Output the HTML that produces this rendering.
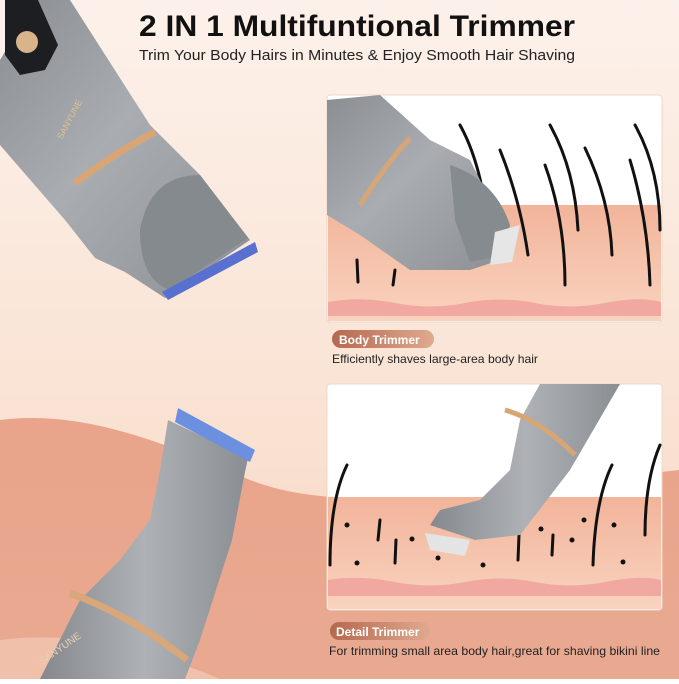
<!DOCTYPE html>
<html><head><style>
body{margin:0;width:679px;height:679px;overflow:hidden;font-family:"Liberation Sans",sans-serif}
</style></head><body>
<svg width="679" height="679" viewBox="0 0 679 679" xmlns="http://www.w3.org/2000/svg">
<defs>
<linearGradient id="bg" x1="0" y1="0" x2="0" y2="1">
<stop offset="0" stop-color="#fcf1ea"/><stop offset="0.6" stop-color="#fae3d4"/><stop offset="1" stop-color="#f6d3bf"/></linearGradient>
<linearGradient id="sal" x1="0" y1="0" x2="0" y2="1">
<stop offset="0" stop-color="#e9a48b"/><stop offset="1" stop-color="#e9a991"/></linearGradient>
<linearGradient id="metal" x1="0" y1="0" x2="1" y2="1">
<stop offset="0" stop-color="#8a8d91"/><stop offset="0.45" stop-color="#a9adb1"/><stop offset="1" stop-color="#8c9095"/></linearGradient>
<linearGradient id="metal2" x1="0" y1="0" x2="1" y2="0">
<stop offset="0" stop-color="#85898d"/><stop offset="0.5" stop-color="#aeb2b6"/><stop offset="1" stop-color="#8a8e92"/></linearGradient>
<linearGradient id="skin" x1="0" y1="0" x2="0" y2="1">
<stop offset="0" stop-color="#f2b49a"/><stop offset="1" stop-color="#f9d3bf"/></linearGradient>
<linearGradient id="pill" x1="0" y1="0" x2="1" y2="0">
<stop offset="0" stop-color="#b4694f"/><stop offset="1" stop-color="#e0a98f"/></linearGradient>
</defs>
<rect width="679" height="679" fill="url(#bg)"/>
<path d="M0 420 C80 410 160 440 250 480 C330 510 420 500 679 470 L679 679 L0 679Z" fill="url(#sal)"/>
<path d="M0 640 C80 630 150 650 220 679 L0 679Z" fill="#f0c0aa"/>

<!-- title -->
<text x="139" y="36" font-size="30" font-weight="bold" fill="#111" textLength="436" lengthAdjust="spacingAndGlyphs">2 IN 1 Multifuntional Trimmer</text>
<text x="139" y="60" font-size="15" fill="#222" textLength="436" lengthAdjust="spacingAndGlyphs">Trim Your Body Hairs in Minutes &amp; Enjoy Smooth Hair Shaving</text>

<!-- trimmer 1 -->
<path d="M35 0 L70 0 L150 125 L200 175 L250 240 L165 298 L125 272 L95 258 L65 220 L0 145 L0 60Z" fill="url(#metal)"/>
<path d="M5 0 L38 0 L58 45 L45 70 L20 75 L5 55Z" fill="#1d1e22"/>
<circle cx="27" cy="42" r="11" fill="#d9b48a"/>
<path d="M75 183 Q120 150 155 132" stroke="#d9a577" stroke-width="7" fill="none"/>
<path d="M140 230 Q150 175 200 175 L248 238 L170 290 Q140 280 140 230Z" fill="#858a8f"/>
<path d="M162 292 L255 242 L258 252 L168 300Z" fill="#5870d0"/>
<text x="0" y="0" font-size="9" fill="#e0c090" transform="translate(62 140) rotate(-62)">SANYUNE</text>

<!-- trimmer 2 -->
<path d="M168 420 L248 458 L245 472 L232 540 L200 640 L185 679 L40 679 L80 600 L120 560 L150 520 L160 470Z" fill="url(#metal2)"/>
<path d="M178 408 L255 450 L250 462 L175 422Z" fill="#6d8fe0"/>
<path d="M70 593 Q130 615 187 660" stroke="#d8a77a" stroke-width="7" fill="none"/>
<text x="0" y="0" font-size="10" fill="#e8d0b0" transform="translate(42 665) rotate(-35)">SANYUNE</text>

<!-- panel 1 -->
<rect x="327" y="95" width="335" height="227" rx="3" fill="#fff" stroke="#eed8c8"/>
<rect x="328" y="205" width="333" height="116" fill="url(#skin)"/>
<path d="M328 302 Q360 296 395 303 T465 303 T535 303 T605 303 T661 302 L661 316 L328 316Z" fill="#f0a8a0"/>
<g stroke="#111" stroke-width="3" fill="none" stroke-linecap="round">
<path d="M460 125 Q485 170 490 250"/><path d="M500 150 Q520 200 528 255"/><path d="M545 165 Q565 220 565 285"/>
<path d="M550 125 Q575 170 578 230"/><path d="M585 148 Q610 200 612 255"/><path d="M630 160 Q648 220 650 285"/>
<path d="M635 125 Q660 170 660 230"/><path d="M357 260 L358 282"/><path d="M395 270 L393 285"/>
</g>
<path d="M327 100 L380 95 L430 140 L470 160 L505 230 L500 260 L470 270 L410 270 L360 235 L327 215Z" fill="url(#metal)"/>
<path d="M360 205 Q385 165 410 138" stroke="#d8a577" stroke-width="5" fill="none"/>
<path d="M450 165 Q495 180 510 225 L505 255 L470 262 L455 220Z" fill="#868b90"/>
<path d="M495 232 L520 225 L512 262 L490 265Z" fill="#e6e6e6"/>

<!-- label 1 -->
<rect x="332" y="330" width="102" height="18" rx="9" fill="url(#pill)"/>
<text x="339" y="344" font-size="12" font-weight="bold" fill="#fff">Body Trimmer</text>
<text x="332" y="363" font-size="12" fill="#222" textLength="206" lengthAdjust="spacingAndGlyphs">Efficiently shaves large-area body hair</text>

<!-- panel 2 -->
<rect x="327" y="384" width="335" height="226" rx="3" fill="#fff" stroke="#eed8c8"/>
<rect x="328" y="497" width="333" height="112" fill="url(#skin)"/>
<path d="M328 580 Q360 575 395 582 T465 582 T535 582 T605 582 T661 580 L661 596 L328 596Z" fill="#f0a8a0"/>
<g fill="#111">
<circle cx="347" cy="525" r="2.5"/><circle cx="357" cy="563" r="2.5"/><circle cx="412" cy="539" r="2.5"/><circle cx="438" cy="558" r="2.5"/><circle cx="483" cy="565" r="2.5"/><circle cx="541" cy="529" r="2.5"/><circle cx="572" cy="540" r="2.5"/><circle cx="584" cy="520" r="2.5"/><circle cx="614" cy="525" r="2.5"/><circle cx="623" cy="562" r="2.5"/>
</g>
<g stroke="#111" stroke-width="3" fill="none" stroke-linecap="round">
<path d="M347 465 Q330 500 330 565"/><path d="M612 465 Q595 500 593 565"/><path d="M660 445 Q645 480 645 535"/>
<path d="M380 520 L378 540"/><path d="M396 540 L395 563"/><path d="M520 510 L518 560"/><path d="M553 535 L552 555"/>
</g>
<path d="M540 384 L620 384 L570 470 L520 535 L475 540 L430 525 L440 510 L480 500 L510 470 L520 420Z" fill="url(#metal2)"/>
<path d="M505 410 Q540 420 575 455" stroke="#d8a577" stroke-width="5" fill="none"/>
<path d="M425 533 L470 540 L465 556 L430 550Z" fill="#e4e4e4"/>

<!-- label 2 -->
<rect x="330" y="622" width="100" height="18" rx="9" fill="url(#pill)"/>
<text x="336" y="636" font-size="12" font-weight="bold" fill="#fff">Detail Trimmer</text>
<text x="329" y="655" font-size="12" fill="#222" textLength="331" lengthAdjust="spacingAndGlyphs">For trimming small area body hair,great for shaving bikini line</text>
</svg>
</body></html>
